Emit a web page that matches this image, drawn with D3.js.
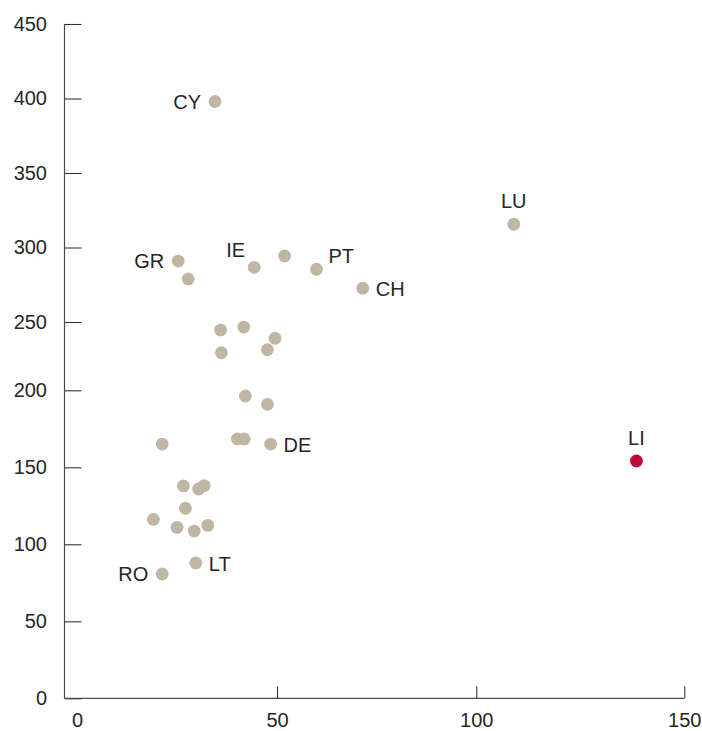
<!DOCTYPE html>
<html>
<head>
<meta charset="utf-8">
<script src="https://cdn.jsdelivr.net/npm/d3@7"></script>
<style>
  html, body { margin: 0; padding: 0; background: #fff; }
  svg { display: block; }
  text { font-family: "Liberation Sans", Arial, Helvetica, sans-serif; }
</style>
</head>
<body>
<svg id="chart" width="702" height="731"></svg>
<script>
// ---- data ----
const codes = ["CY","GR","","IE","","PT","CH","LU",
  "","","","","",
  "","","","","", "DE","LI",
  "","","","","","","","","LT","RO"];
const xValues = [34.5,25.3,27.8,44.3,51.9,59.9,71.5,109.0,
  35.9,41.7,49.5,36.1,47.6,
  42.1,47.6,40.1,41.8,21.3,48.4,138.5,
  26.6,30.4,31.8,27.1,19.1,25.0,29.3,32.7,29.7,21.3];
const yValues = [398,290.9,278.9,286.7,294.3,285.4,272.7,315.6,
  244.1,246.3,238.1,227.5,229.7,
  196.3,190.9,168.4,168.4,165.1,165.1,154.1,
  137.9,135.9,138.1,123.4,116.2,111.0,108.6,112.3,87.9,80.7];
const highlighted = ["LI"];
const xTicks = [0,50,100,150];
const yTicks = [0,50,100,150,200,250,300,350,400,450];
// label placement per labelled country
const labelSide = {CY:"left", GR:"left", RO:"left", IE:"aboveLeft", PT:"aboveRight",
  CH:"right", DE:"right", LT:"right", LU:"above", LI:"above"};

// ---- layout ----
const svg = d3.select("#chart");
const axisX = 64.5, axisY = 698.3;
// the original axes are not evenly spaced, so piecewise linear scales follow its tick positions
const x = d3.scaleLinear().domain([0,50,100,150]).range([77,277,476.3,684.3]);
const y = d3.scaleLinear().domain([0,200,250,450]).range([698.3,390.3,322,24]);

const textColor = "#262626", axisColor = "#4a4a4a";
const fs = 20;

// y axis
const gy = svg.append("g").attr("transform", `translate(${axisX},0)`)
  .call(d3.axisLeft(y).tickValues(yTicks).tickSize(-17).tickPadding(17.5).tickFormat(d3.format("d")));
gy.select(".domain").remove();
gy.selectAll(".tick line").attr("stroke", "#333").attr("stroke-width", 1.1);
gy.selectAll(".tick text").attr("font-size", fs).attr("fill", textColor)
  .attr("font-family", "Liberation Sans, Arial, sans-serif");
svg.append("line").attr("x1", axisX).attr("x2", axisX).attr("y1", y(450)).attr("y2", axisY)
  .attr("stroke", axisColor).attr("stroke-width", 1.2);

// x axis
const gx = svg.append("g").attr("transform", `translate(0,${axisY})`)
  .call(d3.axisBottom(x).tickValues(xTicks).tickSize(-12).tickPadding(14.5).tickFormat(d3.format("d")));
gx.select(".domain").remove();
gx.selectAll(".tick line").attr("stroke", "#333").attr("stroke-width", 1.1)
  .attr("display", d => d === 0 ? "none" : null);
gx.selectAll(".tick text").attr("font-size", fs).attr("fill", textColor)
  .attr("font-family", "Liberation Sans, Arial, sans-serif");
svg.append("line").attr("x1", axisX).attr("x2", x(150)).attr("y1", axisY).attr("y2", axisY)
  .attr("stroke", axisColor).attr("stroke-width", 1.2);

// points
const pts = codes.map((c, i) => ({code: c, x: xValues[i], y: yValues[i]}));
svg.append("g").selectAll("circle").data(pts).join("circle")
  .attr("cx", d => x(d.x)).attr("cy", d => y(d.y)).attr("r", 6.4)
  .attr("fill", d => highlighted.includes(d.code) ? "#BA0B3A" : "#BFB7A3");

// labels
svg.append("g").selectAll("text").data(pts.filter(d => d.code)).join("text")
  .attr("font-size", fs).attr("fill", textColor)
  .text(d => d.code)
  .each(function(d) {
    const s = labelSide[d.code], cx = x(d.x), cy = y(d.y), t = d3.select(this);
    if (s === "left") t.attr("x", cx - 14).attr("y", cy).attr("dy", "0.36em").attr("text-anchor", "end");
    else if (s === "right") t.attr("x", cx + 13).attr("y", cy).attr("dy", "0.38em").attr("text-anchor", "start");
    else if (s === "above") t.attr("x", cx).attr("y", cy - 16).attr("text-anchor", "middle");
    else if (s === "aboveLeft") t.attr("x", cx - 9).attr("y", cy - 10).attr("text-anchor", "end");
    else if (s === "aboveRight") t.attr("x", cx + 12).attr("y", cy - 6).attr("text-anchor", "start");
  });
</script>
</body>
</html>
